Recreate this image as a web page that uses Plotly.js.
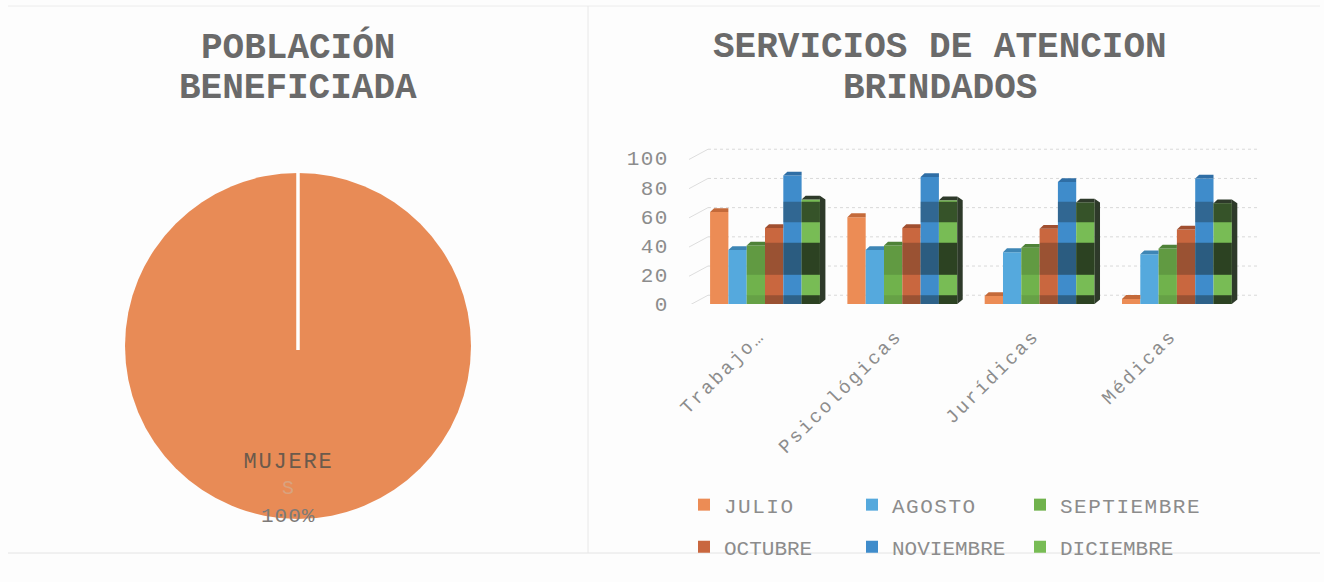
<!DOCTYPE html>
<html><head><meta charset="utf-8">
<script src="https://cdn.plot.ly/plotly-3.0.1.min.js"></script>
<style>
html,body{margin:0;padding:0;background:#fdfdfd}
.ytick text{letter-spacing:1.4px}
.xtick text{letter-spacing:2.4px}
.legendtext{letter-spacing:1.5px}
.legend .scrollbox{clip-path:none !important}
.annotation[data-index="4"] text{letter-spacing:1.8px}
.annotation[data-index="6"] text{letter-spacing:1px}
</style></head><body><div id="c" style="width:1324px;height:582px"></div>
<script>
const pieLabels = ['MUJERES'];
const pieValues = [100];
const categories = ['Trabajo…', 'Psicológicas', 'Jurídicas', 'Médicas'];
const JULIO = [63, 59.5, 5.5, 3.5];
const AGOSTO = [37, 37, 35.5, 34];
const SEPTIEMBRE = [40, 40, 38.5, 38];
const OCTUBRE = [52, 52, 51.5, 51];
const NOVIEMBRE = [88, 87, 83.5, 86];
const DICIEMBRE = [71.5, 71, 69.5, 69];
const seriesNames = ['JULIO','AGOSTO','SEPTIEMBRE','OCTUBRE','NOVIEMBRE','DICIEMBRE'];
const seriesValues = [JULIO,AGOSTO,SEPTIEMBRE,OCTUBRE,NOVIEMBRE,DICIEMBRE];
const seriesColors = ['#EC8C55','#55A9DD','#70B24C','#C9673F','#3F8CCB','#78BC55'];
const capColors = ['#C46A3A','#3E86B5','#4F8238','#A04F30','#2F6EA5','#2E3A2A'];
const bandRanges = [[20,42],[56,70],[0,6]];
const bandAlpha = [0,0,[.15,0,.1],[.25,0,.25],[.4,.3,.35],[.72,.62,.72]];

const W=1324,H=582,PX0=689,PX1=1258,PY0=304,PYT=143.4,CX0=765,CAT=137.3;
const FONT='"Liberation Mono", monospace';
const px=v=>(v-CX0)/CAT, gw=0.8/6;
const shapes=[];
const paperLine=(x0,y0,x1,y1,c,w)=>shapes.push({type:'line',xref:'paper',yref:'paper',x0:x0/W,x1:x1/W,y0:1-y0/H,y1:1-y1/H,line:{color:c,width:w},layer:'below'});
paperLine(8,6,1320,6,'#ececec',1);
paperLine(8,553,1320,553,'#e4e4e4',1);
paperLine(588,6,588,553,'#e8e8e8',1);
[0,20,40,60,80,100].forEach(v=>{
  shapes.push({type:'line',xref:'x',yref:'y',x0:px(708),x1:px(PX1),y0:v+6,y1:v+6,line:{color:'#d9d9d9',width:1,dash:'dot'},layer:'below'});
  shapes.push({type:'line',xref:'x',yref:'y',x0:px(PX0),x1:px(708),y0:v-1,y1:v+6,line:{color:'#dddddd',width:1},layer:'below'});
});
shapes.push({type:'line',xref:'paper',yref:'paper',x0:298/W,x1:298/W,y0:1-172/H,y1:1-350/H,line:{color:'#ffffff',width:3.5},layer:'above'});
seriesValues.forEach((vals,s)=>vals.forEach((v,c)=>{
  const x0=c-0.4+s*gw,x1=x0+gw;
  const a=bandAlpha[s];
  if(a) bandRanges.forEach((r,i)=>{
    if(a[i]>0 && v>r[0]) shapes.push({type:'rect',xref:'x',yref:'y',x0,x1,y0:r[0],y1:Math.min(v,r[1]),fillcolor:'rgba(15,20,15,'+a[i]+')',line:{width:0},layer:'above'});
  });
  const dx=gw*0.22,dv=2.6;
  shapes.push({type:'path',xref:'x',yref:'y',path:`M${x0},${v}L${x0+dx},${v+dv}L${x1},${v+dv}L${x1},${v}Z`,fillcolor:capColors[s],line:{width:0},layer:'above'});
  if(s===5) shapes.push({type:'path',xref:'x',yref:'y',path:`M${x1},0L${x1+gw*0.3},3L${x1+gw*0.3},${v}L${x1},${v+dv}Z`,fillcolor:'#2E3A2A',line:{width:0},layer:'above'});
}));

const traces=[{type:'pie',labels:pieLabels,values:pieValues,marker:{colors:['#E88B56']},textinfo:'none',sort:false,showlegend:false,hoverinfo:'label+percent',
  domain:{x:[125/W,471/W],y:[(H-519)/H,(H-173)/H]}}];
seriesNames.forEach((n,i)=>traces.push({type:'bar',name:n,x:categories,y:seriesValues[i],marker:{color:seriesColors[i]},legend:i<3?'legend':'legend2'}));

const legendBase=(y)=>({orientation:'h',x:684/W,xanchor:'left',y:1-y/H,yanchor:'middle',entrywidth:123,entrywidthmode:'pixels',bgcolor:'rgba(0,0,0,0)',font:{family:FONT,size:21,color:'#8c8c8c'},itemclick:false,itemdoubleclick:false});
const ann=(text,x,y,size,color,bold)=>({xref:'paper',yref:'paper',x:x/W,y:1-y/H,xanchor:'center',yanchor:'middle',showarrow:false,text:bold?`<b>${text}</b>`:text,font:{family:FONT,size,color}});
const layout={width:W,height:H,margin:{l:0,r:0,t:0,b:0},paper_bgcolor:'#fdfdfd',plot_bgcolor:'rgba(0,0,0,0)',
  barmode:'group',bargap:0.2,bargroupgap:0,
  xaxis:{domain:[PX0/W,PX1/W],range:[px(PX0),px(PX1)],type:'category',tickangle:-45,ticks:'outside',ticklen:12,tickcolor:'rgba(0,0,0,0)',showgrid:false,zeroline:false,showline:false,ticklabelshift:-6,tickfont:{family:FONT,size:19,color:'#8c8c8c'}},
  yaxis:{domain:[(H-PY0)/H,(H-PYT)/H],range:[0,110],tickvals:[0,20,40,60,80,100],ticks:'outside',ticklen:15,tickcolor:'rgba(0,0,0,0)',showgrid:false,zeroline:false,showline:false,tickfont:{family:FONT,size:21,color:'#8c8c8c'}},
  legend:legendBase(505),legend2:legendBase(547),
  shapes,
  annotations:[
    ann('POBLACIÓN',298,47,36,'#6a6a6a',true),
    ann('BENEFICIADA',298,88,36,'#6a6a6a',true),
    ann('SERVICIOS DE ATENCION',940,47,36,'#6a6a6a',true),
    ann('BRINDADOS',940,88,36,'#6a6a6a',true),
    ann('MUJERE',288,462,22,'#6b5a4c',false),
    ann('S',288,488,20,'#d9a27e',false),
    ann('100%',288,516,21,'#7d7a78',false)
  ]};
Plotly.newPlot('c',traces,layout,{displayModeBar:false,responsive:false});
</script></body></html>
